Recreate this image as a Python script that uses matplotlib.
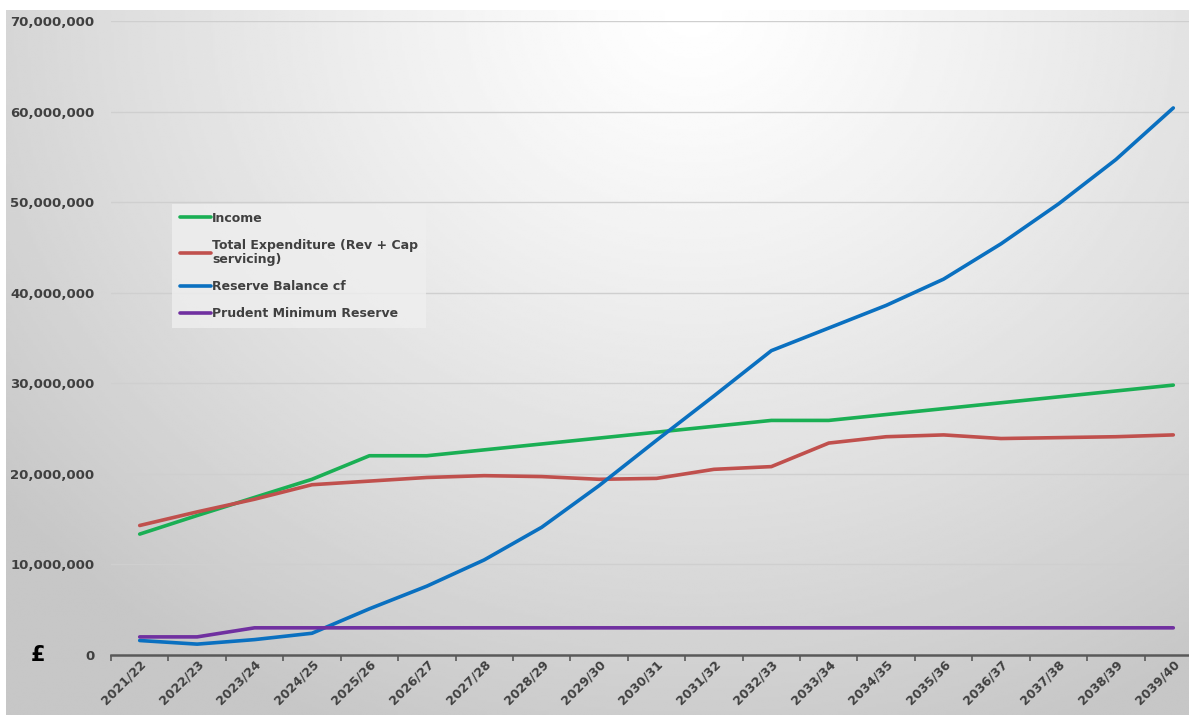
import numpy as np
import matplotlib
matplotlib.use("Agg")
import matplotlib.pyplot as plt
from matplotlib.ticker import FuncFormatter, FixedLocator

# chart data (values in pounds)
years = ["2021/22", "2022/23", "2023/24", "2024/25", "2025/26", "2026/27", "2027/28",
         "2028/29", "2029/30", "2030/31", "2031/32", "2032/33", "2033/34", "2034/35",
         "2035/36", "2036/37", "2037/38", "2038/39", "2039/40"]
income = [13.35e6, 15.4e6, 17.4e6, 19.4e6, 22.0e6, 22.0e6, 22.65e6, 23.3e6, 23.95e6,
          24.6e6, 25.25e6, 25.9e6, 25.9e6, 26.55e6, 27.2e6, 27.85e6, 28.5e6, 29.15e6, 29.8e6]
expenditure = [14.3e6, 15.8e6, 17.2e6, 18.8e6, 19.2e6, 19.6e6, 19.8e6, 19.7e6, 19.4e6,
               19.5e6, 20.5e6, 20.8e6, 23.4e6, 24.1e6, 24.3e6, 23.9e6, 24.0e6, 24.1e6, 24.3e6]
reserve = [1.6e6, 1.2e6, 1.7e6, 2.4e6, 5.1e6, 7.6e6, 10.5e6, 14.1e6, 18.7e6, 23.7e6,
           28.6e6, 33.6e6, 36.1e6, 38.6e6, 41.5e6, 45.4e6, 49.8e6, 54.7e6, 60.4e6]
prudent_min = [2.0e6, 2.0e6, 3.0e6, 3.0e6, 3.0e6, 3.0e6, 3.0e6, 3.0e6, 3.0e6, 3.0e6,
               3.0e6, 3.0e6, 3.0e6, 3.0e6, 3.0e6, 3.0e6, 3.0e6, 3.0e6, 3.0e6]

series = [
    ("Income", income, "#1aaf54"),
    ("Total Expenditure (Rev + Cap\nservicing)", expenditure, "#c0504d"),
    ("Reserve Balance cf", reserve, "#0a70c0"),
    ("Prudent Minimum Reserve", prudent_min, "#7030a0"),
]

W, H = 1189, 715
fig = plt.figure(figsize=(W / 100, H / 100), dpi=100)
fig.patch.set_facecolor("white")

# radial grey gradient behind the chart
bg = fig.add_axes([6 / W, 0, 1 - 6 / W, (H - 10) / H])
bg.set_axis_off()
yy, xx = np.mgrid[0:300, 0:500]
dx = (xx / 500 - 0.58) / 0.75
dy = (yy / 300 - 0.0) / 1.1
d = np.clip(np.sqrt(dx ** 2 + dy ** 2), 0, 1)
shade = 1.0 - 0.22 * d ** 1.2
bg.imshow(shade, cmap="gray", vmin=0, vmax=1, aspect="auto", interpolation="bilinear")

ax = fig.add_axes([111 / W, 60 / H, 1091 / W, 634 / H])
ax.patch.set_alpha(0)
x = np.arange(len(years))
for label, vals, col in series:
    ax.plot(x, vals, color=col, lw=2.6, label=label, solid_capstyle="round")

ax.set_xlim(-0.5, len(years) - 0.5)
ax.set_ylim(0, 70e6)
ax.set_yticks(np.arange(0, 70e6 + 1, 10e6))
ax.yaxis.set_major_formatter(FuncFormatter(lambda v, p: "{:,.0f}".format(v)))
ax.grid(axis="y", color="#cfcfcf", lw=1)
ax.set_axisbelow(True)

ax.set_xticks(x)
ax.set_xticklabels(years, rotation=45, ha="right", rotation_mode="anchor")
ax.xaxis.set_minor_locator(FixedLocator(np.arange(-0.5, len(years), 1.0)))
ax.tick_params(axis="x", which="major", length=0, pad=2)
ax.tick_params(axis="x", which="minor", length=4, width=1.2, color="#595959")
ax.tick_params(axis="y", length=0, pad=12)
for lab in ax.get_xticklabels() + ax.get_yticklabels():
    lab.set_fontweight("bold")
    lab.set_color("#404040")
    lab.set_fontsize(9.5)
for lab in ax.get_xticklabels():
    lab.set_fontsize(9)

for s in ["top", "right", "left"]:
    ax.spines[s].set_visible(False)
ax.spines["bottom"].set_color("#595959")
ax.spines["bottom"].set_linewidth(1.8)

fig.text(38 / W, 1 - 655 / H, "£", fontsize=15, fontweight="bold", color="black",
         ha="center", va="center")

leg = fig.legend(loc="upper left", bbox_to_anchor=(166 / W, 1 - 198 / H),
                 frameon=True, fancybox=False, facecolor="#efefef", edgecolor="none",
                 framealpha=0.8, handlelength=2.5, handletextpad=0.1, labelspacing=1.1,
                 borderpad=0.6, prop={"weight": "bold", "size": 9})
for t in leg.get_texts():
    t.set_color("#404040")

fig.savefig("out.png", dpi=100)
